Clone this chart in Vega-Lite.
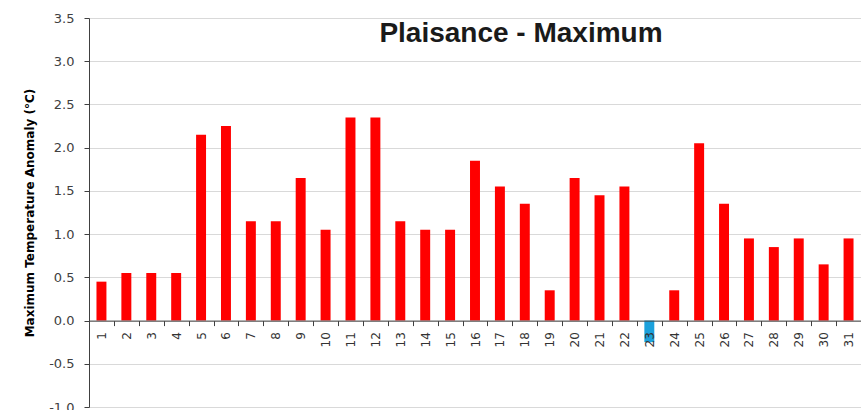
{
  "$schema": "https://vega.github.io/schema/vega-lite/v6.json",
  "width": 772,
  "height": 389,
  "autosize": {"type": "none"},
  "padding": {"left": 89, "top": 18, "right": 0, "bottom": 3},
  "background": "white",
  "title": {
    "text": "Plaisance - Maximum",
    "font": "Liberation Sans",
    "fontSize": 28,
    "fontWeight": "bold",
    "color": "#1a1a1a",
    "anchor": "middle",
    "baseline": "alphabetic",
    "offset": 0,
    "dy": 58,
    "dx": 46
  },
  "data": {
    "values": [
      {"day": 1, "anomaly": 0.45},
      {"day": 2, "anomaly": 0.55},
      {"day": 3, "anomaly": 0.55},
      {"day": 4, "anomaly": 0.55},
      {"day": 5, "anomaly": 2.15},
      {"day": 6, "anomaly": 2.25},
      {"day": 7, "anomaly": 1.15},
      {"day": 8, "anomaly": 1.15},
      {"day": 9, "anomaly": 1.65},
      {"day": 10, "anomaly": 1.05},
      {"day": 11, "anomaly": 2.35},
      {"day": 12, "anomaly": 2.35},
      {"day": 13, "anomaly": 1.15},
      {"day": 14, "anomaly": 1.05},
      {"day": 15, "anomaly": 1.05},
      {"day": 16, "anomaly": 1.85},
      {"day": 17, "anomaly": 1.55},
      {"day": 18, "anomaly": 1.35},
      {"day": 19, "anomaly": 0.35},
      {"day": 20, "anomaly": 1.65},
      {"day": 21, "anomaly": 1.45},
      {"day": 22, "anomaly": 1.55},
      {"day": 23, "anomaly": -0.25},
      {"day": 24, "anomaly": 0.35},
      {"day": 25, "anomaly": 2.05},
      {"day": 26, "anomaly": 1.35},
      {"day": 27, "anomaly": 0.95},
      {"day": 28, "anomaly": 0.85},
      {"day": 29, "anomaly": 0.95},
      {"day": 30, "anomaly": 0.65},
      {"day": 31, "anomaly": 0.95}
    ]
  },
  "mark": {"type": "bar", "width": {"band": 0.4}},
  "encoding": {
    "x": {
      "field": "day",
      "type": "ordinal",
      "sort": "ascending",
      "scale": {"paddingInner": 0, "paddingOuter": 0},
      "axis": {
        "title": null,
        "offset": -86.4,
        "zindex": 1,
        "tickBand": "extent",
        "tickSize": 5,
        "tickColor": "#404040",
        "domainColor": "#404040",
        "labelAngle": -90,
        "labelAlign": "right",
        "labelBaseline": "middle",
        "labelPadding": 6,
        "labelFont": "DejaVu Sans",
        "labelFontSize": 12,
        "labelColor": "#333333",
        "grid": false
      }
    },
    "y": {
      "field": "anomaly",
      "type": "quantitative",
      "scale": {"domain": [-1, 3.5], "nice": false, "zero": false},
      "axis": {
        "title": "Maximum Temperature Anomaly (°C)",
        "titleFont": "DejaVu Sans",
        "titleFontSize": 12,
        "titleFontWeight": "bold",
        "titleColor": "#000000",
        "titlePadding": 12,
        "values": [-1, -0.5, 0, 0.5, 1, 1.5, 2, 2.5, 3, 3.5],
        "format": ".1f",
        "labelExpr": "replace(datum.label, '\u2212', '-')",
        "tickSize": 5,
        "tickColor": "#404040",
        "domainColor": "#404040",
        "labelFont": "DejaVu Sans",
        "labelFontSize": 13,
        "labelColor": "#404040",
        "labelPadding": 10,
        "grid": true,
        "gridColor": "#D9D9D9"
      }
    },
    "color": {
      "condition": {"test": "datum.anomaly < 0", "value": "#1BA1DC"},
      "value": "#FF0000"
    }
  },
  "config": {
    "view": {"stroke": null}
  }
}
